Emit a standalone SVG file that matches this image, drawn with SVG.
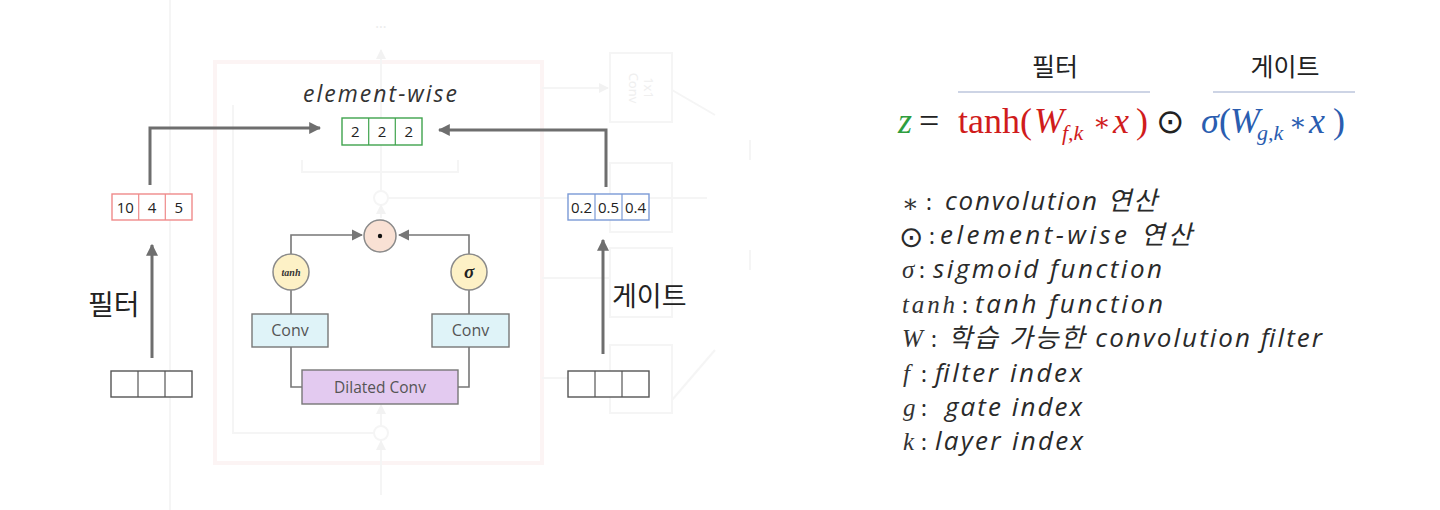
<svg xmlns="http://www.w3.org/2000/svg" width="1440" height="510" viewBox="0 0 1440 510">
<style>
.bg{fill:none;stroke:#f5f5f5;stroke-width:2}
.bgp{fill:none;stroke:#fcf4f4;stroke-width:4}
.conn{fill:none;stroke:#6e6e6e;stroke-width:3}
.thin{fill:none;stroke:#777;stroke-width:1.6}
.cell{font-family:"Open Sans","Noto Sans",sans-serif;font-size:15px;fill:#222;text-anchor:middle}
.lbl{font-family:"Noto Sans CJK KR","Noto Sans",sans-serif;fill:#222}
.desc{font-family:"Open Sans","Noto Sans","Noto Sans CJK KR",sans-serif;font-style:italic;font-weight:400;font-size:26px;fill:#2a2a2a}
.sym{font-family:"Liberation Serif","DejaVu Serif",serif;font-style:italic;font-size:25px;fill:#333}
.col{font-family:"Noto Sans",sans-serif;font-size:22px;fill:#2a2a2a}
.math{font-family:"Liberation Serif","DejaVu Serif",serif;font-size:36px}
.box{font-family:"Open Sans","Noto Sans",sans-serif;fill:#555;text-anchor:middle}
</style>
<defs>
<marker id="ah" viewBox="0 0 10 10" refX="9" refY="5" markerWidth="4" markerHeight="4" orient="auto-start-reverse" markerUnits="strokeWidth"><path d="M0,0 L10,5 L0,10 z" fill="#6e6e6e"/></marker>
<marker id="ahs" viewBox="0 0 10 10" refX="9" refY="5" markerWidth="7" markerHeight="7" orient="auto" markerUnits="strokeWidth"><path d="M0,0 L10,5 L0,10 z" fill="#777"/></marker>
<marker id="ahf" viewBox="0 0 10 10" refX="9" refY="5" markerWidth="5" markerHeight="5" orient="auto" markerUnits="strokeWidth"><path d="M0,0 L10,5 L0,10 z" fill="#f2f2f2"/></marker>
</defs>
<rect width="1440" height="510" fill="#ffffff"/>

<g id="background-faint">
<rect class="bgp" x="215" y="62" width="327" height="401"/>
<line class="bg" x1="170" y1="0" x2="170" y2="510"/>
<polyline class="bg" points="233,105 233,433 374,433"/>
<circle class="bg" cx="381" cy="198" r="7"/>
<circle class="bg" cx="381" cy="433" r="7"/>
<line class="bg" x1="381" y1="191" x2="381" y2="50" marker-end="url(#ahf)"/>
<line class="bg" x1="381" y1="218" x2="381" y2="205" marker-end="url(#ahf)"/>
<line class="bg" x1="381" y1="426" x2="381" y2="405" marker-end="url(#ahf)"/>
<line class="bg" x1="381" y1="495" x2="381" y2="441" marker-end="url(#ahf)"/>
<text x="381" y="28" font-family="Noto Sans,sans-serif" font-size="14" fill="#ececec" text-anchor="middle">...</text>
<polyline class="bg" points="302,160 302,172 458,172 458,160"/>
<line class="bg" x1="388" y1="198" x2="707" y2="198"/>
<line class="bg" x1="542" y1="88" x2="608" y2="88" marker-end="url(#ahf)"/>
<line class="bg" x1="542" y1="278" x2="610" y2="278"/>
<line class="bg" x1="542" y1="378" x2="568" y2="378"/>
<rect class="bg" x="610" y="53" width="62" height="69" fill="#fdfdfc"/>
<rect class="bg" x="610" y="163" width="62" height="69" fill="#fdfdfc"/>
<rect class="bg" x="610" y="248" width="62" height="69" fill="#fdfdfc"/>
<rect class="bg" x="610" y="345" width="62" height="68" fill="#fdfdfc"/>
<text transform="translate(641,88) rotate(90)" font-family="Noto Sans,sans-serif" font-size="13" fill="#efefef" text-anchor="middle"><tspan x="0" dy="-3">1x1</tspan><tspan x="0" dy="15">Conv</tspan></text>
<line class="bg" x1="672" y1="90" x2="715" y2="115"/>
<line class="bg" x1="672" y1="400" x2="715" y2="350"/>
<line class="bg" x1="750" y1="140" x2="750" y2="160"/>
<line class="bg" x1="750" y1="250" x2="750" y2="270"/>
</g>

<g id="connectors">
<polyline class="conn" points="150,185 150,128 320,128" marker-end="url(#ah)"/>
<polyline class="conn" points="606,187 606,130 439,130" marker-end="url(#ah)"/>
<line class="conn" x1="152" y1="358" x2="152" y2="245" marker-end="url(#ah)"/>
<line class="conn" x1="603" y1="354" x2="603" y2="240" marker-end="url(#ah)"/>
<polyline class="thin" points="291,254 291,235 362,235" marker-end="url(#ahs)"/>
<polyline class="thin" points="469,254 469,235 399,235" marker-end="url(#ahs)"/>
<line class="thin" x1="291" y1="290" x2="291" y2="314"/>
<line class="thin" x1="469" y1="290" x2="469" y2="314"/>
<polyline class="thin" points="291,347 291,387 302,387"/>
<polyline class="thin" points="469,347 469,387 458,387"/>
</g>

<g id="node-output">
<text x="380" y="102" font-family="Open Sans,Noto Sans,sans-serif" font-style="italic" font-size="23" fill="#333" text-anchor="middle" textLength="154" lengthAdjust="spacing">element-wise</text>
<rect x="342" y="118" width="80" height="27" fill="#fff" stroke="#3fa34d" stroke-width="1.4"/>
<line x1="368.7" y1="118" x2="368.7" y2="145" stroke="#3fa34d" stroke-width="1.2"/>
<line x1="395.3" y1="118" x2="395.3" y2="145" stroke="#3fa34d" stroke-width="1.2"/>
<text class="cell" x="355.3" y="137">2</text>
<text class="cell" x="382" y="137">2</text>
<text class="cell" x="408.7" y="137">2</text>
</g>

<g id="node-filter-out">
<rect x="112" y="194" width="80" height="26" fill="#fff" stroke="#ef8a8a" stroke-width="1.4"/>
<line x1="138.7" y1="194" x2="138.7" y2="220" stroke="#ef8a8a" stroke-width="1.2"/>
<line x1="165.3" y1="194" x2="165.3" y2="220" stroke="#ef8a8a" stroke-width="1.2"/>
<text class="cell" x="125.3" y="212.5">10</text>
<text class="cell" x="152" y="212.5">4</text>
<text class="cell" x="178.7" y="212.5">5</text>
</g>

<g id="node-gate-out">
<rect x="568" y="194" width="81" height="26" fill="#fff" stroke="#7b9ad6" stroke-width="1.4"/>
<line x1="595" y1="194" x2="595" y2="220" stroke="#7b9ad6" stroke-width="1.2"/>
<line x1="622" y1="194" x2="622" y2="220" stroke="#7b9ad6" stroke-width="1.2"/>
<text class="cell" x="581.5" y="212.5" font-size="14">0.2</text>
<text class="cell" x="608.5" y="212.5" font-size="14">0.5</text>
<text class="cell" x="635.5" y="212.5" font-size="14">0.4</text>
</g>

<g id="node-filter-in">
<rect x="111" y="371" width="81" height="26" fill="#fff" stroke="#555" stroke-width="1.4"/>
<line x1="138" y1="371" x2="138" y2="397" stroke="#555" stroke-width="1.2"/>
<line x1="165" y1="371" x2="165" y2="397" stroke="#555" stroke-width="1.2"/>
<text class="lbl" x="88" y="315" font-size="28">필터</text>
</g>

<g id="node-gate-in">
<rect x="568" y="371" width="81" height="26" fill="#fff" stroke="#555" stroke-width="1.4"/>
<line x1="595" y1="371" x2="595" y2="397" stroke="#555" stroke-width="1.2"/>
<line x1="622" y1="371" x2="622" y2="397" stroke="#555" stroke-width="1.2"/>
<text class="lbl" x="612" y="306" font-size="27">게이트</text>
</g>

<g id="node-mult">
<circle cx="380" cy="236" r="16" fill="#f9e1d4" stroke="#8a8a8a" stroke-width="1.5"/>
<circle cx="380" cy="236" r="2.2" fill="#111"/>
</g>
<g id="node-tanh">
<circle cx="291" cy="272" r="18" fill="#fdf1c6" stroke="#8a8a8a" stroke-width="1.5"/>
<text x="291" y="275.5" font-family="Liberation Serif,serif" font-style="italic" font-weight="bold" font-size="10" fill="#333" text-anchor="middle">tanh</text>
</g>
<g id="node-sigma">
<circle cx="469" cy="272" r="18" fill="#fdf1c6" stroke="#8a8a8a" stroke-width="1.5"/>
<text x="469" y="278" font-family="Liberation Serif,serif" font-style="italic" font-weight="bold" font-size="19" fill="#222" text-anchor="middle">σ</text>
</g>
<g id="node-conv-left">
<rect x="252" y="314" width="76" height="33" fill="#dff3f8" stroke="#777" stroke-width="1.4"/>
<text class="box" x="290" y="336" font-size="16">Conv</text>
</g>
<g id="node-conv-right">
<rect x="432" y="314" width="77" height="33" fill="#dff3f8" stroke="#777" stroke-width="1.4"/>
<text class="box" x="470.5" y="336" font-size="16">Conv</text>
</g>
<g id="node-dilated">
<rect x="302" y="370" width="156" height="34" fill="#e3caf0" stroke="#777" stroke-width="1.4"/>
<text class="box" x="380" y="393" font-size="15.5">Dilated Conv</text>
</g>

<g id="formula">
<text class="lbl" x="1055" y="76" font-size="25" text-anchor="middle" fill="#333">필터</text>
<text class="lbl" x="1285" y="76" font-size="25" text-anchor="middle" fill="#333">게이트</text>
<line x1="958" y1="92" x2="1150" y2="92" stroke="#bcc6dc" stroke-width="1.5"/>
<line x1="1213" y1="92" x2="1355" y2="92" stroke="#bcc6dc" stroke-width="1.5"/>
<text class="math" x="898" y="133" fill="#2e9e3e" font-style="italic">z</text>
<text class="math" x="919" y="133" fill="#222">=</text>
<text class="math" y="133" fill="#d01c1c">
<tspan x="958">tanh(</tspan><tspan x="1034" font-style="italic">W</tspan><tspan x="1062" y="140" font-style="italic" font-size="22">f,k</tspan><tspan x="1093" y="131" font-size="26">∗</tspan><tspan x="1113" y="133" font-style="italic">x</tspan><tspan x="1136">)</tspan>
</text>
<text x="1156" y="133" font-family="DejaVu Sans,sans-serif" font-size="34" fill="#222">⊙</text>
<text class="math" y="133" fill="#2a5db0">
<tspan x="1201" font-style="italic">σ</tspan><tspan x="1219">(</tspan><tspan x="1230" font-style="italic">W</tspan><tspan x="1257" y="140" font-style="italic" font-size="22">g,k</tspan><tspan x="1289" y="131" font-size="26">∗</tspan><tspan x="1309" y="133" font-style="italic">x</tspan><tspan x="1333">)</tspan>
</text>
</g>

<g id="legend">
<text class="sym" x="902" y="212" font-style="normal" font-size="22">∗</text>
<text class="col" x="926" y="210">:</text>
<text class="desc" x="945" y="210" textLength="212" lengthAdjust="spacing">convolution 연산</text>

<text x="899" y="247" font-family="DejaVu Sans,sans-serif" font-size="29" fill="#2a2a2a">⊙</text>
<text class="col" x="929" y="244">:</text>
<text class="desc" x="940" y="244" textLength="252" lengthAdjust="spacing">element-wise 연산</text>

<text class="sym" x="902" y="278">σ</text>
<text class="col" x="919" y="278">:</text>
<text class="desc" x="933" y="278" textLength="229" lengthAdjust="spacing">sigmoid function</text>

<text class="sym" x="902" y="313" textLength="53" lengthAdjust="spacing">tanh</text>
<text class="col" x="962" y="313">:</text>
<text class="desc" x="975" y="313" textLength="188" lengthAdjust="spacing">tanh function</text>

<text class="sym" x="902" y="347">W</text>
<text class="col" x="931" y="347">:</text>
<text class="desc" x="948" y="347" textLength="374" lengthAdjust="spacing">학습 가능한 convolution filter</text>

<text class="sym" x="903" y="382">f</text>
<text class="col" x="921" y="382">:</text>
<text class="desc" x="935" y="382" textLength="147" lengthAdjust="spacing">filter index</text>

<text class="sym" x="903" y="416">g</text>
<text class="col" x="921" y="416">:</text>
<text class="desc" x="945" y="416" textLength="137" lengthAdjust="spacing">gate index</text>

<text class="sym" x="903" y="450">k</text>
<text class="col" x="921" y="450">:</text>
<text class="desc" x="935" y="450" textLength="148" lengthAdjust="spacing">layer index</text>
</g>
</svg>
